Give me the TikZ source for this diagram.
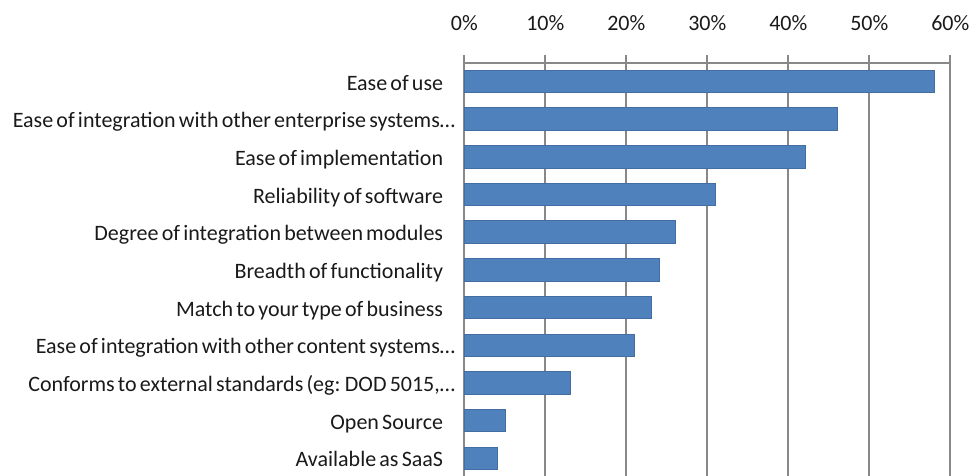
\documentclass[tikz,border=0pt]{standalone}
\usepackage{fontspec}
\setmainfont{Carlito}
\usetikzlibrary{positioning}
\definecolor{barblue}{HTML}{4F81BD}
\definecolor{gridgray}{HTML}{888888}
\definecolor{labelgray}{HTML}{1A1A1A}
\newcommand\catfont{\fontsize{22}{22}\selectfont\spaceskip=3.2pt plus 1pt\xspaceskip=4.5pt plus 1pt\relax}

\begin{document}
\begin{tikzpicture}[x=1pt,y=-1pt,
    bar/.style={fill=barblue,draw=barblue!85!black,line width=0.5pt,inner sep=0pt,anchor=west,minimum height=22.5pt},
    gridline/.style={draw=gridgray,line width=1.8pt},
    catlabel/.style={inner sep=0pt,text=labelgray,text height=17.4pt,text depth=0pt,font=\catfont},
    pctlabel/.style={inner sep=0pt,anchor=base,text=labelgray,font=\fontsize{22}{22}\selectfont}]
\useasboundingbox (0,0) rectangle (976,475);

% grid, ticks and percent labels
\foreach \p [count=\n from 0] in {0,10,...,60} {
    \coordinate (G\n) at (464.3+8.1*\p,55);
    \coordinate (H\n) at (464.3+8.1*\p,476);
    \draw[gridline] (G\n) -- (H\n);
    \node[pctlabel] (P\n) at (464.3+8.1*\p,30) {\p\%};
}
\coordinate (A0) at (464.3,63.3);
\coordinate (A6) at (950.3,63.3);
\draw[gridline] (A0) -- (A6);

% bars and category labels
\foreach \val/\gap/\txt [count=\n] in {
    58/21/Ease of use,
    46/9/Ease of integration with other enterprise systems…,
    42/21/Ease of implementation,
    31/21/Reliability of software,
    26/21/Degree of integration between modules,
    24/21/Breadth of functionality,
    23/21/Match to your type of business,
    21/9/Ease of integration with other content systems…,
    13/9/{Conforms to external standards (eg: DOD 5015,…},
    5/21/Open Source,
    4/21/Available as SaaS} {
    \node[bar,minimum width=8.1*\val] (B\n) at (464.3,81.3+37.67*\n-37.67) {};
    \node[catlabel,left=\gap pt of B\n] (L\n) {\txt};
}
\end{tikzpicture}
\end{document}
